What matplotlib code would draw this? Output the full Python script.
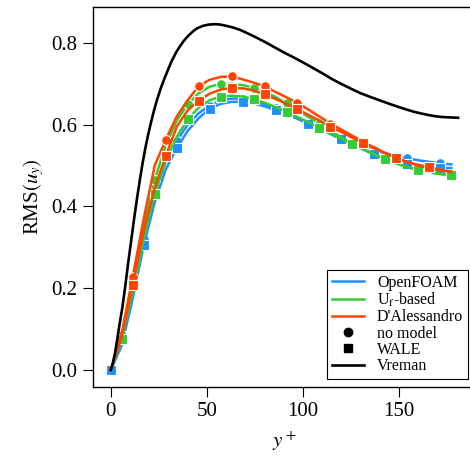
import numpy as np
import matplotlib
matplotlib.use('Agg')
import matplotlib.pyplot as plt
from matplotlib.lines import Line2D

plt.rcParams['font.family'] = ['Liberation Serif', 'DejaVu Serif']
plt.rcParams['mathtext.fontset'] = 'stix'

# Sample positions (y+) shared by the six LES profiles
yplus = [0.0, 5.71, 11.43, 17.14, 22.86, 28.57, 34.29, 40.0, 45.71, 51.43,
         57.14, 62.86, 68.57, 74.29, 80.0, 85.71, 91.43, 97.14, 102.86, 108.57,
         114.29, 120.0, 125.71, 131.43, 137.14, 142.86, 148.57, 154.29, 160.0,
         165.71, 171.43, 177.14]

openfoam_nomodel = [0.0, 0.065, 0.185, 0.32, 0.43, 0.51, 0.56, 0.60, 0.628, 0.647,
                    0.659, 0.664, 0.664, 0.659, 0.651, 0.640, 0.628, 0.615, 0.602, 0.590,
                    0.579, 0.568, 0.557, 0.547, 0.538, 0.530, 0.524, 0.518, 0.513,
                    0.509, 0.506, 0.503]
openfoam_wale = [0.0, 0.06, 0.175, 0.305, 0.41, 0.49, 0.542, 0.585, 0.616, 0.639,
                 0.651, 0.656, 0.656, 0.652, 0.645, 0.636, 0.626, 0.615, 0.603, 0.590,
                 0.577, 0.564, 0.551, 0.539, 0.528, 0.518, 0.510, 0.504, 0.500,
                 0.497, 0.495, 0.494]
uf_nomodel = [0.0, 0.085, 0.21, 0.35, 0.465, 0.55, 0.61, 0.650, 0.677, 0.693,
              0.700, 0.700, 0.697, 0.691, 0.681, 0.668, 0.652, 0.636, 0.619, 0.602,
              0.585, 0.569, 0.554, 0.540, 0.527, 0.515, 0.505, 0.496, 0.489,
              0.484, 0.480, 0.478]
uf_wale = [0.0, 0.075, 0.19, 0.32, 0.43, 0.51, 0.57, 0.613, 0.642, 0.660,
           0.669, 0.671, 0.669, 0.663, 0.654, 0.643, 0.632, 0.619, 0.606, 0.593,
           0.579, 0.565, 0.552, 0.540, 0.527, 0.516, 0.506, 0.497, 0.489,
           0.483, 0.479, 0.476]
dal_nomodel = [0.0, 0.09, 0.228, 0.37, 0.50, 0.563, 0.62, 0.66, 0.694, 0.710,
               0.717, 0.718, 0.711, 0.703, 0.694, 0.680, 0.667, 0.653, 0.637, 0.620,
               0.603, 0.588, 0.573, 0.558, 0.544, 0.531, 0.519, 0.509, 0.500,
               0.493, 0.488, 0.485]
dal_wale = [0.0, 0.08, 0.208, 0.34, 0.445, 0.523, 0.595, 0.635, 0.659, 0.676,
            0.686, 0.690, 0.689, 0.684, 0.674, 0.663, 0.651, 0.638, 0.624, 0.610,
            0.595, 0.582, 0.568, 0.555, 0.542, 0.530, 0.518, 0.508, 0.502,
            0.496, 0.490, 0.485]

# Vreman reference profile
yplus_vreman = [0, 1, 2.2, 3.3, 4.5, 6, 7.4, 9, 10.5, 12, 13.6, 15.3, 16.6, 18, 19.5,
                21, 22.5, 24, 26, 28, 30, 31.6, 34, 36, 37.8, 40, 42.9, 45, 48, 51,
                54.3, 57, 60, 63.5, 67.3, 71, 75, 80, 84.6, 90, 95, 98.6, 104, 110,
                115, 119.4, 125, 130, 135, 140.3, 145, 150, 154, 157.5, 161, 165,
                168.5, 172, 176, 180.7]
vreman = [0, 0.015, 0.041, 0.073, 0.11, 0.152, 0.2, 0.26, 0.312, 0.365, 0.418, 0.47,
          0.507, 0.543, 0.577, 0.607, 0.635, 0.66, 0.689, 0.714, 0.737, 0.755,
          0.777, 0.792, 0.804, 0.816, 0.829, 0.836, 0.842, 0.845, 0.846, 0.845,
          0.842, 0.838, 0.832, 0.824, 0.815, 0.803, 0.791, 0.777, 0.765, 0.756,
          0.742, 0.726, 0.712, 0.701, 0.688, 0.677, 0.668, 0.659, 0.651, 0.643,
          0.637, 0.632, 0.628, 0.624, 0.621, 0.619, 0.618, 0.617]

BLUE = '#1E90FF'
GREEN = '#32CD32'
ORANGE = '#FF4500'

fig = plt.figure(figsize=(4.7, 4.65), dpi=100)
ax = fig.add_axes([92.7 / 470, 78 / 465, (476 - 92.7) / 470, (387 - 7) / 465])

series = [
    (openfoam_nomodel, BLUE, 'o', 0),
    (openfoam_wale, BLUE, 's', 0),
    (uf_nomodel, GREEN, 'o', 1),
    (uf_wale, GREEN, 's', 1),
    (dal_nomodel, ORANGE, 'o', 2),
    (dal_wale, ORANGE, 's', 2),
]
for vals, col, mk, off in series:
    ax.plot(yplus, vals, color=col, lw=1.8, marker=mk, markersize=7,
            markeredgecolor='white', markeredgewidth=0.8,
            markevery=(off, 3))

ax.plot(yplus_vreman, vreman, color='black', lw=1.9)

ax.set_xlim(-9.4, 190)
ax.set_ylim(-0.0416, 0.888)
ax.set_xticks([0, 50, 100, 150])
ax.set_yticks([0.0, 0.2, 0.4, 0.6, 0.8])
ax.yaxis.set_major_formatter(matplotlib.ticker.FormatStrFormatter('%.1f'))
ax.tick_params(direction='out', length=7, width=0.8, labelsize=15, pad=4,
               top=False, right=False)
for sp in ax.spines.values():
    sp.set_linewidth(1.0)

ax.set_xlabel(r'$y^+$', fontsize=15, labelpad=6)
ax.set_ylabel(r'RMS$(u_y)$', fontsize=15)

handles = [
    Line2D([], [], color=BLUE, lw=1.8),
    Line2D([], [], color=GREEN, lw=1.8),
    Line2D([], [], color=ORANGE, lw=1.8),
    Line2D([], [], color='black', lw=0, marker='o', markersize=6),
    Line2D([], [], color='black', lw=0, marker='s', markersize=6),
    Line2D([], [], color='black', lw=1.9),
]
labels = ['OpenFOAM', r'U$_{\rm f}$-based', "D'Alessandro", 'no model', 'WALE', 'Vreman']
leg = ax.legend(handles, labels, loc='lower right', fontsize=11.5, fancybox=False,
                edgecolor='black', framealpha=1, labelspacing=0.02,
                borderaxespad=0.5, handletextpad=0.8, borderpad=0.3)
leg.get_frame().set_linewidth(0.8)

fig.savefig('out.png', dpi=100)
